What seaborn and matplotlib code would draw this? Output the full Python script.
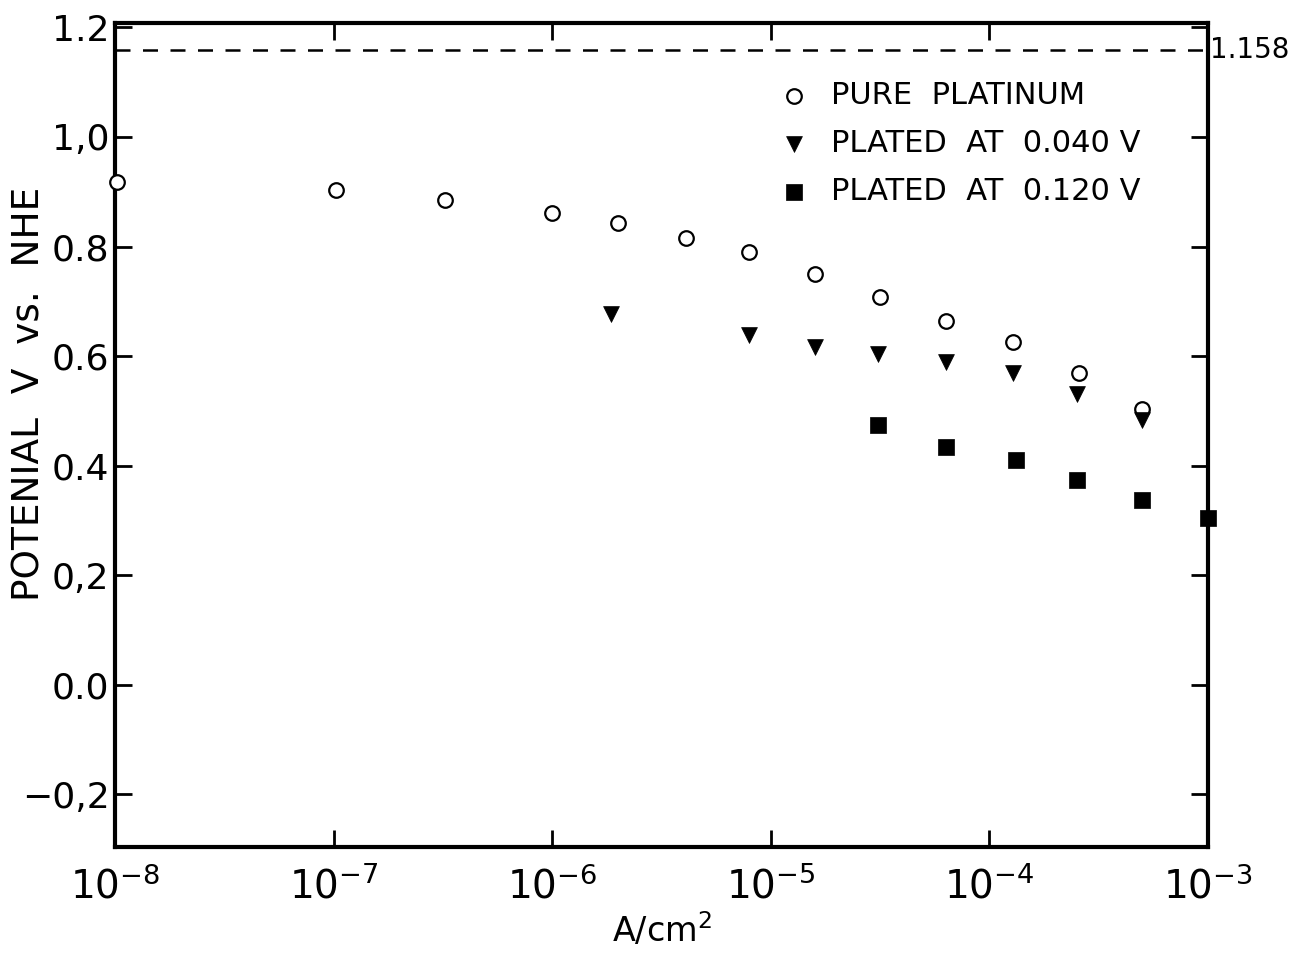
import matplotlib
matplotlib.use("Agg")
import matplotlib.pyplot as plt
import seaborn as sns
import numpy as np
import pandas as pd

# Data (log10 of current density, potential V vs NHE)
pure_logx = [-7.99, -6.99, -6.49, -6.00, -5.70, -5.39, -5.10, -4.80, -4.50, -4.20, -3.89, -3.59, -3.30]
pure_y = [0.917, 0.903, 0.885, 0.862, 0.843, 0.815, 0.790, 0.750, 0.707, 0.665, 0.625, 0.569, 0.503]

p040_logx = [-5.73, -5.10, -4.80, -4.51, -4.20, -3.89, -3.60, -3.30]
p040_y = [0.676, 0.638, 0.616, 0.603, 0.589, 0.569, 0.530, 0.483]

p120_logx = [-4.51, -4.20, -3.88, -3.60, -3.30, -3.00]
p120_y = [0.475, 0.435, 0.410, 0.373, 0.338, 0.305]

series_labels = ["PURE  PLATINUM", "PLATED  AT  0.040 V", "PLATED  AT  0.120 V"]
ytick_vals = [-0.2, 0.0, 0.2, 0.4, 0.6, 0.8, 1.0, 1.2]
ytick_labels = ["\u22120,2", "0.0", "0,2", "0.4", "0.6", "0.8", "1,0", "1.2"]
xtick_exps = [-8, -7, -6, -5, -4, -3]
ref_line = 1.158

sns.set_theme(style="ticks")
plt.rcParams['font.family'] = ['DejaVu Sans']
plt.rcParams['mathtext.fontset'] = 'dejavusans'
plt.rcParams['text.color'] = 'black'
plt.rcParams['axes.labelcolor'] = 'black'
plt.rcParams['xtick.color'] = 'black'
plt.rcParams['ytick.color'] = 'black'

fig = plt.figure(figsize=(12.98, 9.59), dpi=100)
ax = fig.add_axes([0.0886, 0.1168, 0.8421, 0.8592])

df_pure = pd.DataFrame({"x": 10.0 ** np.array(pure_logx), "y": pure_y})
df_040 = pd.DataFrame({"x": 10.0 ** np.array(p040_logx), "y": p040_y})
df_120 = pd.DataFrame({"x": 10.0 ** np.array(p120_logx), "y": p120_y})

sns.scatterplot(data=df_pure, x="x", y="y", ax=ax, marker="o", s=110,
                facecolors="white", edgecolor="black", linewidth=1.6,
                label=series_labels[0], zorder=3, clip_on=False)
sns.scatterplot(data=df_040, x="x", y="y", ax=ax, marker="v", s=130,
                color="black", edgecolor="black", linewidth=0.5,
                label=series_labels[1], zorder=3, clip_on=False)
sns.scatterplot(data=df_120, x="x", y="y", ax=ax, marker="s", s=130,
                color="black", edgecolor="black", linewidth=0.5,
                label=series_labels[2], zorder=3, clip_on=False)

ax.axhline(ref_line, color="black", linestyle=(0, (6, 5)), linewidth=1.8, zorder=2)
ax.text(1.002, ref_line, "1.158", transform=ax.get_yaxis_transform(),
        ha="left", va="center", fontsize=20, color="black")

ax.set_xscale("log")
ax.set_xlim(1e-8, 1e-3)
ax.set_ylim(-0.296, 1.208)

ax.set_xticks([10.0 ** e for e in xtick_exps])
ax.set_xticklabels([r"$10^{-%d}$" % (-e) for e in xtick_exps], fontsize=28)
ax.minorticks_off()
ax.set_yticks(ytick_vals)
ax.set_yticklabels(ytick_labels, fontsize=26)

ax.tick_params(axis="both", which="major", direction="in", length=12, width=2,
               top=True, right=True, labelright=False, labeltop=False, pad=4)
ax.tick_params(axis="x", pad=14)

for sp in ax.spines.values():
    sp.set_linewidth(3)
    sp.set_color("black")

ax.set_xlabel("A/cm$^2$", fontsize=24, labelpad=4)
ax.set_ylabel("POTENIAL  V  vs.  NHE", fontsize=27)
ax.yaxis.set_label_coords(-0.062, 0.55)

leg = ax.legend(loc="upper left", bbox_to_anchor=(0.582, 0.963), frameon=False,
                fontsize=22, handletextpad=0.7, labelspacing=0.62,
                markerscale=1.0, handlelength=1.0)

fig.savefig("out.png", dpi=100, facecolor="white")
